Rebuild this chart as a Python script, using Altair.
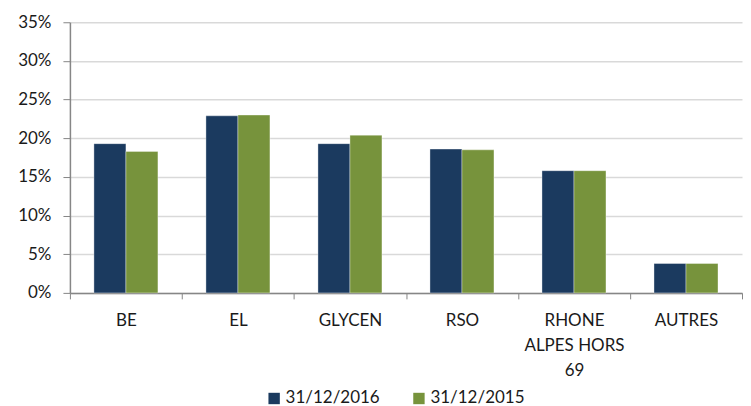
import altair as alt
import pandas as pd

categories = ["BE", "EL", "GLYCEN", "RSO", "RHONE ALPES HORS 69", "AUTRES"]
series_names = ["31/12/2016", "31/12/2015"]
values_2016 = [0.193, 0.229, 0.193, 0.186, 0.158, 0.038]
values_2015 = [0.183, 0.230, 0.204, 0.185, 0.158, 0.038]
y_ticks = [0, 0.05, 0.10, 0.15, 0.20, 0.25, 0.30, 0.35]
colors = ["#1B3A5F", "#77933C"]

rows = []
for c, a, b in zip(categories, values_2016, values_2015):
    rows.append({"cat": c, "series": series_names[0], "value": a})
    rows.append({"cat": c, "series": series_names[1], "value": b})
df = pd.DataFrame(rows)

FONT = "Lato"
label_expr = ("datum.value == 'RHONE ALPES HORS 69' ? ['RHONE', 'ALPES HORS', '69'] : datum.label")

chart = alt.Chart(df).mark_bar(stroke="#ffffff", strokeWidth=0.6, strokeOpacity=0.6).encode(
    x=alt.X("cat:N", sort=categories,
            scale=alt.Scale(paddingInner=0, paddingOuter=0),
            axis=alt.Axis(title=None, labelAngle=0, tickBand="extent", tickSize=6,
                          tickColor="#868686", domainColor="#868686", domainWidth=1.5,
                          labelExpr=label_expr, labelLineHeight=25, labelPadding=14,
                          labelFont=FONT, labelFontSize=17, labelColor="#1a1a1a")),
    xOffset=alt.XOffset("series:N", sort=series_names,
                        scale=alt.Scale(domain=series_names, paddingInner=0, paddingOuter=0.75)),
    y=alt.Y("value:Q", scale=alt.Scale(domain=[0, 0.35]),
            axis=alt.Axis(title=None, format=".0%", values=y_ticks, grid=True,
                          gridColor="#D9D9D9", gridWidth=1.5, tickSize=7, tickColor="#868686",
                          domainColor="#868686", domainWidth=1.5, labelPadding=12,
                          labelFont=FONT, labelFontSize=17, labelColor="#1a1a1a")),
    color=alt.Color("series:N", sort=series_names,
                    scale=alt.Scale(domain=series_names, range=colors),
                    legend=alt.Legend(title=None, orient="none", direction="horizontal",
                                      legendX=196, legendY=368,
                                      symbolType="square", symbolSize=130, symbolStrokeWidth=0,
                                      labelFont=FONT, labelFontSize=17, labelColor="#1a1a1a",
                                      labelOffset=3, columnPadding=30)),
).properties(
    width=673, height=271,
    padding={"left": 9, "top": 5, "right": 0, "bottom": 0},
).configure_view(stroke=None)

chart.save("out.html", embed_options={"renderer": "svg", "actions": False})
